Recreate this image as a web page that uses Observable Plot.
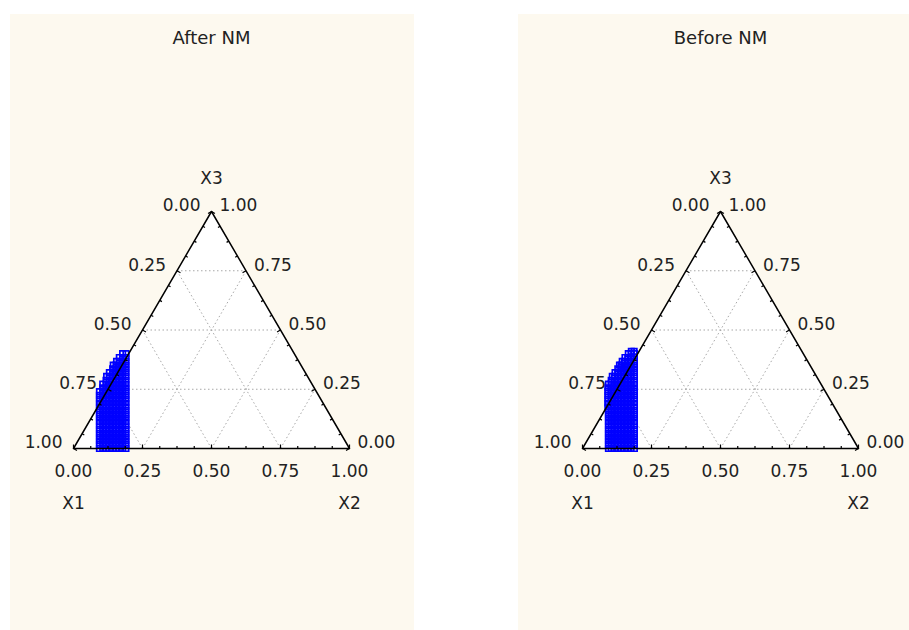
<!DOCTYPE html>
<html>
<head>
<meta charset="utf-8">
<script src="https://cdn.jsdelivr.net/npm/d3@7"></script>
<script src="https://cdn.jsdelivr.net/npm/@observablehq/plot@0.6"></script>
<style>
  html, body { margin: 0; padding: 0; background: #ffffff; }
  body { width: 909px; height: 630px; position: relative; overflow: hidden; }
  .panel { position: absolute; top: 14px; }
</style>
</head>
<body>
<div id="after" class="panel" style="left:10px"></div>
<div id="before" class="panel" style="left:518px"></div>
<script>
// Ternary axes: X1 (bottom-left), X2 (bottom-right), X3 (top)
const tickValues = [0, 0.25, 0.5, 0.75, 1];
const tickLabels = ["0.00", "0.25", "0.50", "0.75", "1.00"];
const minorTickValues = [0.0625, 0.125, 0.1875, 0.3125, 0.375, 0.4375, 0.5625, 0.625, 0.6875, 0.8125, 0.875, 0.9375];
const gridValues = [0.25, 0.5, 0.75];
const axisNames = ["X1", "X2", "X3"];

// Mixture points: X3 level of each row and the X2 values on that row (X1 = 1 - X2 - X3)
const afterX3 = [0.000, 0.016, 0.032, 0.048, 0.064, 0.080, 0.096, 0.112, 0.128, 0.144, 0.160, 0.176, 0.192,
                 0.208, 0.224, 0.240, 0.256, 0.272, 0.288, 0.304, 0.320, 0.336, 0.352, 0.368, 0.384, 0.400];
const afterX2 = [
  [0.190, 0.178, 0.166, 0.154, 0.142, 0.130, 0.118, 0.106, 0.094],
  [0.182, 0.170, 0.158, 0.146, 0.134, 0.122, 0.110, 0.098, 0.086],
  [0.174, 0.162, 0.150, 0.138, 0.126, 0.114, 0.102, 0.090, 0.078],
  [0.166, 0.154, 0.142, 0.130, 0.118, 0.106, 0.094, 0.082, 0.070],
  [0.158, 0.146, 0.134, 0.122, 0.110, 0.098, 0.086, 0.074, 0.062],
  [0.150, 0.138, 0.126, 0.114, 0.102, 0.090, 0.078, 0.066, 0.054],
  [0.142, 0.130, 0.118, 0.106, 0.094, 0.082, 0.070, 0.058, 0.046],
  [0.134, 0.122, 0.110, 0.098, 0.086, 0.074, 0.062, 0.050, 0.038],
  [0.126, 0.114, 0.102, 0.090, 0.078, 0.066, 0.054, 0.042, 0.030],
  [0.118, 0.106, 0.094, 0.082, 0.070, 0.058, 0.046, 0.034, 0.022],
  [0.110, 0.098, 0.086, 0.074, 0.062, 0.050, 0.038, 0.026, 0.014],
  [0.102, 0.090, 0.078, 0.066, 0.054, 0.042, 0.030, 0.018, 0.006],
  [0.094, 0.082, 0.070, 0.058, 0.046, 0.034, 0.022, 0.010, -0.002],
  [0.086, 0.074, 0.062, 0.050, 0.038, 0.026, 0.014, 0.002, -0.010],
  [0.078, 0.066, 0.054, 0.042, 0.030, 0.018, 0.006, -0.006, -0.018],
  [0.070, 0.058, 0.046, 0.034, 0.022, 0.010, -0.002, -0.014, -0.026],
  [0.062, 0.050, 0.038, 0.026, 0.014, 0.002, -0.010, -0.022],
  [0.054, 0.042, 0.030, 0.018, 0.006, -0.006, -0.018, -0.030],
  [0.046, 0.034, 0.022, 0.010, -0.002, -0.014, -0.026],
  [0.038, 0.026, 0.014, 0.002, -0.010, -0.022, -0.032],
  [0.030, 0.018, 0.006, -0.006, -0.018, -0.030],
  [0.022, 0.010, -0.002, -0.014, -0.026],
  [0.014, 0.002, -0.010, -0.022, -0.032],
  [0.006, -0.006, -0.018, -0.028],
  [-0.002, -0.014, -0.026],
  [-0.010, -0.022]
];

const beforeX3 = [0.000, 0.016, 0.032, 0.048, 0.064, 0.080, 0.096, 0.112, 0.128, 0.144, 0.160, 0.176, 0.192,
                  0.208, 0.224, 0.240, 0.256, 0.272, 0.288, 0.304, 0.320, 0.336, 0.352, 0.368, 0.384, 0.400, 0.410];
const beforeX2 = [
  [0.188, 0.176, 0.164, 0.152, 0.140, 0.128, 0.116, 0.104, 0.094],
  [0.180, 0.168, 0.156, 0.144, 0.132, 0.120, 0.108, 0.096, 0.086],
  [0.172, 0.160, 0.148, 0.136, 0.124, 0.112, 0.100, 0.088, 0.078],
  [0.164, 0.152, 0.140, 0.128, 0.116, 0.104, 0.092, 0.080, 0.070],
  [0.156, 0.144, 0.132, 0.120, 0.108, 0.096, 0.084, 0.072, 0.062],
  [0.148, 0.136, 0.124, 0.112, 0.100, 0.088, 0.076, 0.064, 0.054],
  [0.140, 0.128, 0.116, 0.104, 0.092, 0.080, 0.068, 0.056, 0.046],
  [0.132, 0.120, 0.108, 0.096, 0.084, 0.072, 0.060, 0.048, 0.038],
  [0.124, 0.112, 0.100, 0.088, 0.076, 0.064, 0.052, 0.040, 0.030],
  [0.116, 0.104, 0.092, 0.080, 0.068, 0.056, 0.044, 0.032, 0.022],
  [0.108, 0.096, 0.084, 0.072, 0.060, 0.048, 0.036, 0.024, 0.014],
  [0.100, 0.088, 0.076, 0.064, 0.052, 0.040, 0.028, 0.016, 0.004],
  [0.092, 0.080, 0.068, 0.056, 0.044, 0.032, 0.020, 0.008, -0.004],
  [0.084, 0.072, 0.060, 0.048, 0.036, 0.024, 0.012, 0.000, -0.012],
  [0.076, 0.064, 0.052, 0.040, 0.028, 0.016, 0.004, -0.008, -0.020],
  [0.068, 0.056, 0.044, 0.032, 0.020, 0.008, -0.004, -0.016, -0.028],
  [0.060, 0.048, 0.036, 0.024, 0.012, 0.000, -0.012, -0.024, -0.036],
  [0.052, 0.040, 0.028, 0.016, 0.004, -0.008, -0.020, -0.032, -0.042],
  [0.044, 0.032, 0.020, 0.008, -0.004, -0.016, -0.028, -0.040],
  [0.036, 0.024, 0.012, 0.000, -0.012, -0.024, -0.036, -0.044],
  [0.028, 0.016, 0.004, -0.008, -0.020, -0.032, -0.042],
  [0.020, 0.008, -0.004, -0.016, -0.028, -0.040],
  [0.012, 0.000, -0.012, -0.024, -0.036, -0.042],
  [0.004, -0.008, -0.020, -0.032, -0.040],
  [-0.004, -0.016, -0.028, -0.038],
  [-0.012, -0.024, -0.034],
  [-0.018, -0.028]
];

const H = Math.sqrt(3) / 2;
// barycentric (X1, X2, X3) -> plane coordinates of the equilateral triangle
const pt = (x1, x2, x3) => ({x: x2 + x3 / 2, y: x3 * H});

function ternaryPanel({title, x3Levels, x2Rows, width, xRange}) {
  const yRange = [434, 197];
  const kx = 1 / (xRange[1] - xRange[0]);          // data units per pixel
  const ky = H / (yRange[0] - yRange[1]);

  const points = x3Levels.flatMap((x3, i) => x2Rows[i].map((x2) => pt(1 - x2 - x3, x2, x3)));
  const triangle = [pt(1, 0, 0), pt(0, 1, 0), pt(0, 0, 1), pt(1, 0, 0)];

  const grid = gridValues.flatMap((t) => [
    [pt(1 - t, 0, t), pt(0, 1 - t, t)],
    [pt(1 - t, t, 0), pt(0, t, 1 - t)],
    [pt(t, 1 - t, 0), pt(t, 0, 1 - t)]
  ]).map(([a, b]) => ({x1: a.x, y1: a.y, x2: b.x, y2: b.y}));

  // inward tick marks on the three edges
  const tickSeg = (v, len) => {
    const b = pt(1 - v, v, 0), l = pt(v, 0, 1 - v), r = pt(0, 1 - v, v);
    return [
      {x1: b.x, y1: b.y, x2: b.x, y2: b.y + len * ky},
      {x1: l.x, y1: l.y, x2: l.x + 0.866 * len * kx, y2: l.y - 0.5 * len * ky},
      {x1: r.x, y1: r.y, x2: r.x - 0.866 * len * kx, y2: r.y - 0.5 * len * ky}
    ];
  };
  const ticks = [
    ...tickValues.flatMap((v) => tickSeg(v, 4)),
    ...minorTickValues.flatMap((v) => tickSeg(v, 2.5))
  ];

  const leftLabels = tickValues.map((v, i) => ({...pt(v, 0, 1 - v), label: tickLabels[i]}));
  const rightLabels = tickValues.map((v, i) => ({...pt(0, 1 - v, v), label: tickLabels[i]}));
  const baseLabels = tickValues.map((v, i) => ({...pt(1 - v, v, 0), label: tickLabels[i]}));

  const font = {fontSize: 17, fill: "#222"};
  const v1 = pt(1, 0, 0), v2 = pt(0, 1, 0), v3 = pt(0, 0, 1);

  return Plot.plot({
    width,
    height: 616,
    margin: 0,
    style: {background: "#fdf9ef", fontFamily: "DejaVu Sans", overflow: "visible"},
    x: {domain: [0, 1], range: xRange, axis: null},
    y: {domain: [0, H], range: yRange, axis: null},
    marks: [
      Plot.line(triangle, {x: "x", y: "y", fill: "white", stroke: "none"}),
      Plot.link(grid, {x1: "x1", y1: "y1", x2: "x2", y2: "y2", stroke: "#a8a8a8", strokeWidth: 1, strokeDasharray: "1.5,2.5"}),
      Plot.dot(points, {x: "x", y: "y", symbol: "square", r: 3.1, stroke: "#0000ff", strokeWidth: 1.7, fill: "none"}),
      Plot.line(triangle, {x: "x", y: "y", stroke: "black", strokeWidth: 1.5}),
      Plot.link(ticks, {x1: "x1", y1: "y1", x2: "x2", y2: "y2", stroke: "black", strokeWidth: 1.2}),
      Plot.text(leftLabels, {x: "x", y: "y", text: "label", textAnchor: "end", dx: -11, dy: -5.5, ...font}),
      Plot.text(rightLabels, {x: "x", y: "y", text: "label", textAnchor: "start", dx: 8, dy: -5.5, ...font}),
      Plot.text(baseLabels, {x: "x", y: "y", text: "label", dy: 23, ...font}),
      Plot.text([axisNames[0]], {x: v1.x, y: v1.y, dy: 55, ...font}),
      Plot.text([axisNames[1]], {x: v2.x, y: v2.y, dy: 55, ...font}),
      Plot.text([axisNames[2]], {x: v3.x, y: v3.y, dy: -33, ...font}),
      Plot.text([title], {x: v3.x, frameAnchor: "top", dy: 17, ...font, fontSize: 18})
    ]
  });
}

document.getElementById("after").append(
  ternaryPanel({title: "After NM", x3Levels: afterX3, x2Rows: afterX2, width: 404, xRange: [63, 339]})
);
document.getElementById("before").append(
  ternaryPanel({title: "Before NM", x3Levels: beforeX3, x2Rows: beforeX2, width: 391, xRange: [64, 340]})
);
</script>
</body>
</html>
